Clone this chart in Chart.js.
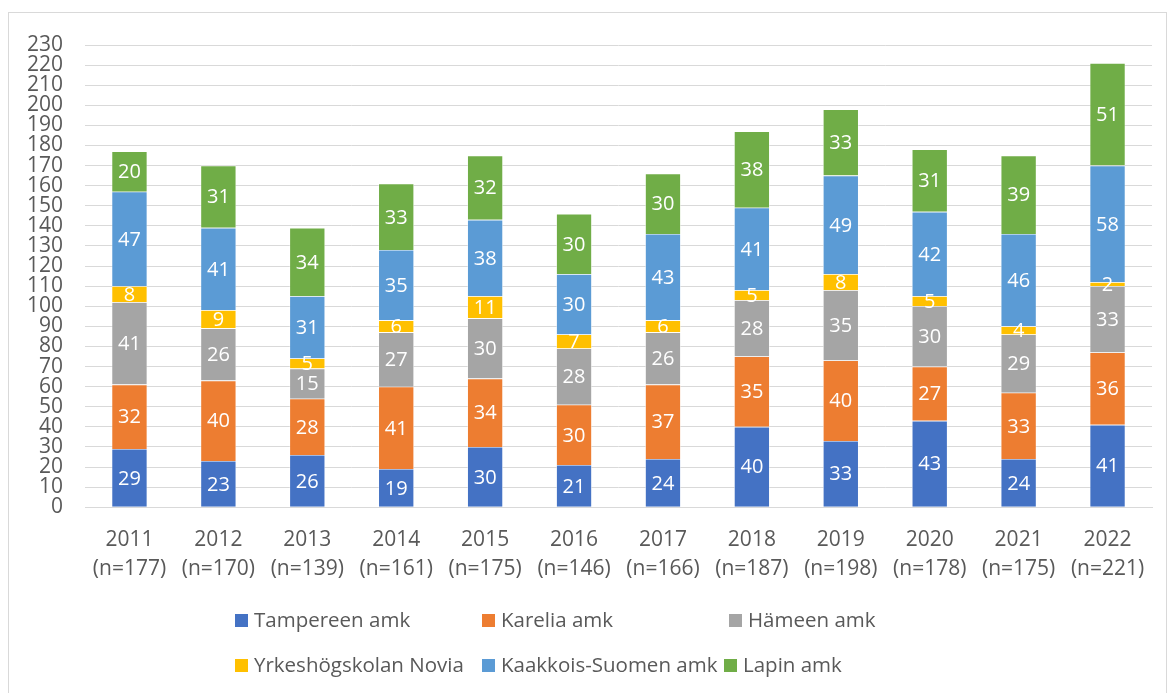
<!DOCTYPE html>
<html>
<head>
<meta charset="utf-8">
<script src="https://cdn.jsdelivr.net/npm/chart.js@4"></script>
<style>
html,body{margin:0;padding:0;background:#fff;}
#wrap{position:absolute;left:0;top:0;width:1170px;height:693px;}
</style>
</head>
<body>
<div id="wrap"><canvas id="c" width="1170" height="693"></canvas></div>
<script>
const years = ["2011","2012","2013","2014","2015","2016","2017","2018","2019","2020","2021","2022"];
const totals = [177,170,139,161,175,146,166,187,198,178,175,221];
const seriesNames = ["Tampereen amk","Karelia amk","Hämeen amk","Yrkeshögskolan Novia","Kaakkois-Suomen amk","Lapin amk"];
const tampereen = [29,23,26,19,30,21,24,40,33,43,24,41];
const karelia   = [32,40,28,41,34,30,37,35,40,27,33,36];
const hameen    = [41,26,15,27,30,28,26,28,35,30,29,33];
const novia     = [8,9,5,6,11,7,6,5,8,5,4,2];
const kaakkois  = [47,41,31,35,38,30,43,41,49,42,46,58];
const lapin     = [20,31,34,33,32,30,30,38,33,31,39,51];
const colors = ["#4472C4","#ED7D31","#A5A5A5","#FFC000","#5B9BD5","#70AD47"];

const labels = years.map((y,i)=>[y,"(n="+totals[i]+")"]);
const seriesData = [tampereen,karelia,hameen,novia,kaakkois,lapin];
const FONT = "'Open Sans', sans-serif";
const TXT = "#595959";

const borderPlugin = {
  id:'frame',
  beforeDraw(chart){
    const ctx = chart.ctx;
    ctx.save();
    ctx.fillStyle = '#fff';
    ctx.fillRect(0,0,chart.width,chart.height);
    ctx.strokeStyle = '#d9d9d9';
    ctx.lineWidth = 1;
    ctx.strokeRect(8.5,12.5,1158,690);
    ctx.restore();
  }
};

const labelPlugin = {
  id:'segLabels',
  afterDatasetsDraw(chart){
    const ctx = chart.ctx;
    ctx.save();
    ctx.font = "20px " + FONT;
    ctx.fillStyle = '#fff';
    ctx.textAlign = 'center';
    ctx.textBaseline = 'middle';
    chart.data.datasets.forEach((ds,di)=>{
      const meta = chart.getDatasetMeta(di);
      meta.data.forEach((el,i)=>{
        const p = el.getProps(['x','y','base'],true);
        ctx.fillText(String(ds.data[i]), p.x, (p.y+p.base)/2 + 1);
      });
    });
    ctx.restore();
  }
};

const legendPlugin = {
  id:'gridLegend',
  afterDraw(chart){
    const ctx = chart.ctx;
    const itemX = [235,482,729,235,482,724];
    const rowY = [620,665];
    ctx.save();
    ctx.font = "20.5px " + FONT;
    ctx.textBaseline = 'middle';
    ctx.textAlign = 'left';
    chart.data.datasets.forEach((ds,i)=>{
      const x = itemX[i], y = rowY[Math.floor(i/3)];
      ctx.fillStyle = ds.backgroundColor;
      ctx.fillRect(x, y-6, 13, 13);
      ctx.fillStyle = TXT;
      ctx.fillText(ds.label, x+19, y+1);
    });
    ctx.restore();
  }
};

new Chart(document.getElementById('c'),{
  type:'bar',
  data:{
    labels: labels,
    datasets: seriesNames.map((n,i)=>({
      label:n,
      data:seriesData[i],
      backgroundColor:colors[i],
      borderColor:'#ffffff',
      borderWidth:0.6,
      barPercentage:0.4,
      categoryPercentage:1.0
    }))
  },
  options:{
    responsive:false,
    animation:false,
    devicePixelRatio:1,
    layout:{padding:{left:0,right:18,top:45,bottom:91}},
    plugins:{legend:{display:false},tooltip:{enabled:false}},
    scales:{
      x:{
        stacked:true,
        grid:{display:false,drawTicks:false},
        border:{display:true,color:'#d9d9d9',width:1},
        ticks:{color:TXT,font:{family:FONT,size:21,lineHeight:1.4},padding:18,maxRotation:0,autoSkip:false}
      },
      y:{
        stacked:true,
        min:0,max:230,
        grid:{color:'#d9d9d9',lineWidth:1,drawTicks:false},
        border:{display:false},
        ticks:{stepSize:10,autoSkip:false,color:TXT,font:{family:FONT,size:21,lineHeight:1},padding:22},
        afterFit(s){s.width=85;}
      }
    }
  },
  plugins:[borderPlugin,labelPlugin,legendPlugin]
});
</script>
</body>
</html>
